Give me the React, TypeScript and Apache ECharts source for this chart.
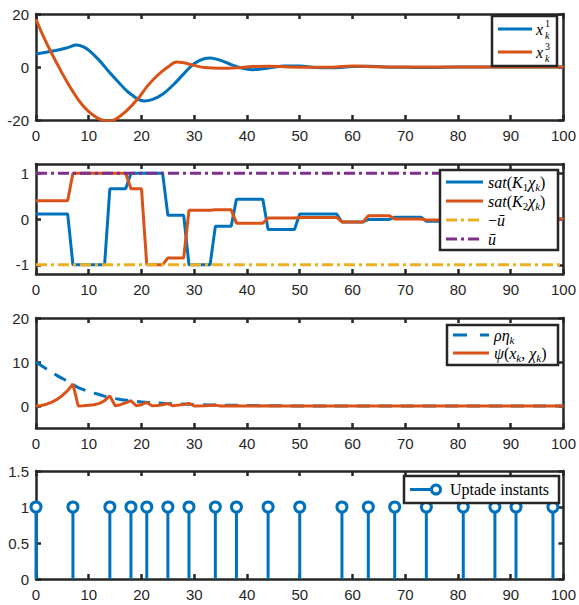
import React, { useEffect, useRef } from "react";
import * as echarts from "echarts";

const BLUE = "#0072BD";
const ORANGE = "#D95319";
const YELLOW = "#EDB120";
const PURPLE = "#7E2F8E";
const AX = "#262626";

// Panel 1: states
const x1K = [0, 2, 4, 6, 7.7, 9, 10.2, 12, 14, 16, 18, 20.5, 22, 24, 26, 28, 30, 32, 33, 35, 37, 39, 41, 43, 45, 47, 50, 53, 56, 60, 63, 66, 70, 75, 80, 90, 100];
const x1V = [4.9, 5.6, 6.3, 7.3, 8.3, 7.6, 6, 2.5, -2.2, -6.5, -10.3, -12.8, -12.3, -10.3, -6.8, -2.6, 1.3, 3.2, 3.4, 2.5, 0.9, -0.4, -1, -0.7, -0.1, 0.4, 0.4, -0.2, -0.3, 0.2, 0.3, 0, -0.1, -0.2, 0, 0, 0];
const x3K = [0, 1, 2, 3, 4, 5, 6, 7, 8, 9, 10, 11, 12, 13.4, 15, 17, 19.4, 21, 23, 25, 26.7, 28, 30, 32, 35, 38, 41, 44, 48, 52, 56, 60, 64, 70, 80, 100];
const x3V = [18, 13.3, 9, 5, 1.2, -2.5, -6, -9.3, -12.3, -14.8, -16.8, -18.4, -19.6, -20.4, -19.8, -16.8, -11.8, -7.5, -3.2, 0, 1.9, 1.6, 0.6, -0.2, -0.5, -0.3, 0.2, 0.3, 0, -0.1, -0.1, 0.4, 0.1, 0, 0, 0];

// Panel 2 / 4: update instants and held control values
const updateK = [0, 7, 14, 18, 21, 25, 29, 34, 38, 44, 50, 58, 63, 68, 74, 81, 87, 91, 98];
const sat1Held = [0.11, -1, 0.66, 1, 1, 0.08, -1, -0.16, 0.43, -0.23, 0.11, -0.065, -0.01, 0.04, -0.05, -0.02, -0.01, 0, 0];
const sat2Held = [0.4, 1, 1, 0.66, -1, -0.85, 0.19, 0.2, -0.09, 0.02, 0.035, -0.065, 0.07, 0, -0.02, -0.01, 0, 0, 0];
const uBar = 1;

// Panel 3
const rhoK = [0, 2, 4, 6, 7, 8, 10, 12, 14, 16, 18, 20, 23, 26, 29, 33, 38, 45, 55, 100];
const rhoV = [10, 8.4, 6.9, 5.6, 4.9, 4.2, 3.3, 2.6, 1.9, 1.5, 1.2, 0.9, 0.7, 0.5, 0.4, 0.25, 0.15, 0.05, 0, 0];
const psiK = [0, 1, 2, 3, 4, 5, 6, 7, 8, 9, 10, 11, 12, 13, 14, 15, 16, 17, 18, 19, 20, 21, 22, 23, 24, 25, 26, 27, 28, 29, 30, 32, 34, 35, 38, 39, 44, 45, 100];
const psiV = [0, 0.1, 0.4, 0.9, 1.5, 2.4, 3.5, 5.0, 0, 0.05, 0.15, 0.3, 0.6, 1.2, 2.3, 0.05, 0.3, 0.7, 1.2, 0.05, 0.3, 0.8, 0.05, 0.1, 0.3, 0.55, 0.05, 0.2, 0.35, 0.6, 0, 0.05, 0.2, 0, 0.08, 0, 0.03, 0, 0];

const stemV = updateK.map(() => 1);

const zip = (k: number[], v: number[]) => k.map((x, i) => [x, v[i]]);
const held = (vals: number[]) => {
  const pts: number[][] = [];
  updateK.forEach((k, i) => {
    const end = i < updateK.length - 1 ? updateK[i + 1] - 1 : 100;
    pts.push([k, vals[i]]);
    if (end > k) pts.push([end, vals[i]]);
  });
  return pts;
};

const grids = [
  { left: 36, right: 13, top: 14, height: 106 },
  { left: 36, right: 13, top: 164, height: 110 },
  { left: 36, right: 13, top: 318, height: 110 },
  { left: 36, right: 13, top: 471, height: 108 },
];
const ySpecs: any[] = [
  { min: -20, max: 20, interval: 20 },
  { min: -1.2, max: 1.2, custom: [-1, 0, 1] },
  { min: -5, max: 20, custom: [0, 10, 20] },
  { min: 0, max: 1.5, interval: 0.5 },
];

const lineStyleAx = { color: AX, width: 2.5 };
const labelFont = { color: AX, fontSize: 15, fontFamily: "Liberation Sans" };

function xAxes() {
  const arr: any[] = [];
  grids.forEach((_, g) => {
    ["bottom", "top"].forEach((pos) => {
      arr.push({
        type: "value", gridIndex: g, position: pos, min: 0, max: 100, interval: 10,
        axisLine: { show: true, onZero: false, lineStyle: lineStyleAx },
        axisTick: { show: true, inside: true, length: 5, lineStyle: lineStyleAx },
        axisLabel: { show: pos === "bottom", margin: 8, ...labelFont },
        splitLine: { show: false },
      });
    });
  });
  return arr;
}
function yAxes() {
  const arr: any[] = [];
  grids.forEach((_, g) => {
    const s = ySpecs[g];
    ["left", "right"].forEach((pos) => {
      const a: any = {
        type: "value", gridIndex: g, position: pos, min: s.min, max: s.max,
        axisLine: { show: true, onZero: false, lineStyle: lineStyleAx },
        axisTick: { show: true, inside: true, length: 5, lineStyle: lineStyleAx },
        axisLabel: { show: pos === "left", margin: 7, ...labelFont },
        splitLine: { show: false },
      };
      if (s.custom) {
        a.axisTick.customValues = s.custom;
        a.axisLabel.customValues = s.custom;
      } else {
        a.interval = s.interval;
      }
      arr.push(a);
    });
  });
  return arr;
}

const line = (g: number, data: any[], color: string, extra: any = {}) => ({
  type: "line", xAxisIndex: 2 * g, yAxisIndex: 2 * g, data, showSymbol: false, symbol: "none",
  lineStyle: { color, width: 3, ...(extra.lineStyle || {}) }, smooth: extra.smooth || false,
  z: extra.z || 3,
});

const SERIF = "Liberation Serif";
const rich = {
  i: { fontFamily: SERIF, fontStyle: "italic", fontSize: 16, lineHeight: 20, verticalAlign: "middle", fill: "#000" },
  r: { fontFamily: SERIF, fontSize: 16, lineHeight: 20, verticalAlign: "middle", fill: "#000" },
  s: { fontFamily: SERIF, fontStyle: "italic", fontSize: 11, lineHeight: 10, verticalAlign: "bottom", fill: "#000" },
  sn: { fontFamily: SERIF, fontSize: 11, lineHeight: 10, verticalAlign: "bottom", fill: "#000" },
};
const gText = (x: number, y: number, text: string) => ({
  type: "text", x, y, z: 102, style: { text, rich, verticalAlign: "middle", align: "left" },
});
const gBox = (x: number, y: number, w: number, h: number) => ({
  type: "rect", z: 100, shape: { x, y, width: w, height: h }, style: { fill: "#fff", stroke: AX, lineWidth: 2.5 },
});
const gLine = (x1: number, x2: number, y: number, color: string, dash?: number[]) => ({
  type: "line", z: 101, shape: { x1, y1: y, x2, y2: y }, style: { stroke: color, lineWidth: 3, lineDash: dash || null },
});
const gSmall = (x: number, y: number, t: string, italic: boolean) => ({
  type: "text", x, y, z: 102,
  style: { text: t, font: `${italic ? "italic " : ""}10px "${SERIF}"`, fill: "#000", verticalAlign: "middle" },
});
const gX = (x: number, y: number) => ({
  type: "text", x, y, z: 102, style: { text: "x", font: `italic 16px "${SERIF}"`, fill: "#000", verticalAlign: "middle" },
});

const DASHDOT = [11, 4, 3, 4];

const option: any = {
  animation: false,
  backgroundColor: "#fff",
  grid: grids,
  xAxis: xAxes(),
  yAxis: yAxes(),
  series: [
    line(0, zip(x1K, x1V), BLUE, { smooth: 0.4 }),
    line(0, zip(x3K, x3V), ORANGE, { smooth: 0.4 }),
    line(1, held(sat1Held), BLUE),
    line(1, held(sat2Held), ORANGE),
    line(1, [[0, -uBar], [100, -uBar]], YELLOW, { lineStyle: { type: DASHDOT }, z: 4 }),
    line(1, [[0, uBar], [100, uBar]], PURPLE, { lineStyle: { type: DASHDOT }, z: 4 }),
    line(2, zip(rhoK, rhoV), BLUE, { lineStyle: { type: [13, 9] }, smooth: 0.3 }),
    line(2, zip(psiK, psiV), ORANGE),
    {
      type: "bar", xAxisIndex: 6, yAxisIndex: 6, data: zip(updateK, stemV), barWidth: 3, clip: false,
      itemStyle: { color: BLUE }, z: 3,
    },
    {
      type: "scatter", xAxisIndex: 6, yAxisIndex: 6, data: zip(updateK, stemV), symbol: "circle", symbolSize: 10, clip: false,
      itemStyle: { color: "#fff", borderColor: BLUE, borderWidth: 3, opacity: 1 }, z: 4,
    },
  ],
  graphic: [
    // Legend 1
    gBox(492, 16, 65, 50),
    gLine(498, 532, 29, BLUE),
    gLine(498, 532, 52, ORANGE),
    gX(536, 29),
    gSmall(545, 23, "1", false),
    gSmall(545, 35, "k", true),
    gX(536, 52),
    gSmall(545, 46, "3", false),
    gSmall(545, 58, "k", true),
    // Legend 2
    gBox(440, 170, 118, 80),
    gLine(446, 483, 182, BLUE),
    gLine(446, 483, 201, ORANGE),
    gLine(446, 483, 220, YELLOW, DASHDOT),
    gLine(446, 483, 239, PURPLE, DASHDOT),
    gText(488, 182, "{i|sat}{r|(}{i|K}{sn|1}{i|χ}{s|k}{r|)}"),
    gText(488, 201, "{i|sat}{r|(}{i|K}{sn|2}{i|χ}{s|k}{r|)}"),
    gText(488, 220, "{r|−}{i|ū}"),
    gText(488, 239, "{i|ū}"),
    // Legend 3
    gBox(447, 325, 111, 40),
    gLine(453, 489, 335, BLUE, [14, 13]),
    gLine(453, 489, 353, ORANGE),
    gText(494, 335, "{i|ρη}{s|k}"),
    gText(494, 353, "{i|ψ}{r|(}{i|x}{s|k}{r|, }{i|χ}{s|k}{r|)}"),
    // Legend 4
    gBox(404, 476, 155, 27),
    gLine(410, 436, 489.5, BLUE),
    { type: "circle", z: 102, shape: { cx: 436, cy: 489.5, r: 4.5 }, style: { fill: "#fff", stroke: BLUE, lineWidth: 3 } },
    gText(450, 489.5, "{r|Uptade instants}"),
  ],
};

export default function App() {
  const ref = useRef<HTMLDivElement>(null);
  useEffect(() => {
    const chart = echarts.init(ref.current!, null, { renderer: "svg" });
    chart.setOption(option);
    return () => chart.dispose();
  }, []);
  return (
    <div
      ref={ref}
      style={{ position: "fixed", left: 0, top: 0, width: 579, height: 605, background: "#fff" }}
    />
  );
}
